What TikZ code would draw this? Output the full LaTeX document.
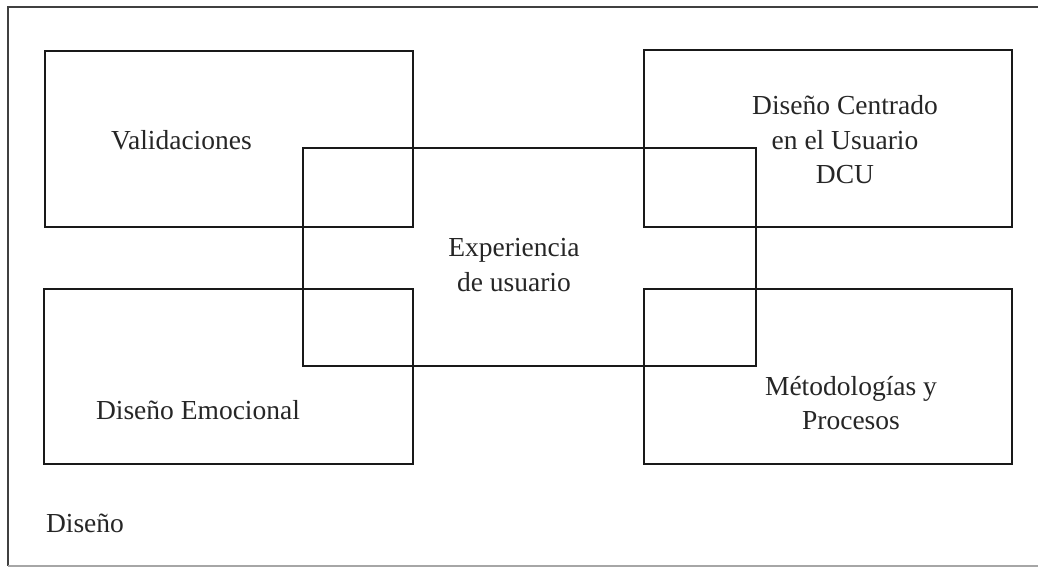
\documentclass[tikz,border=0pt]{standalone}
\usepackage{fontspec}
\setmainfont{Liberation Serif}
\begin{document}
\begin{tikzpicture}[x=1pt,y=-1pt,
  boxstyle/.style={draw=black!90, line width=2pt, rectangle, inner sep=0pt},
  txt/.style={font=\fontsize{27.5}{34.5}\selectfont, align=center, inner sep=0pt, text=black!85}]
\useasboundingbox (0,0) rectangle (1038,568);
% outer frame (cut at right)
\coordinate (ftr) at (1038,7);
\coordinate (ftl) at (8,7);
\coordinate (fbl) at (8,566);
\coordinate (fbr) at (1038,566);
\draw[line width=1.8pt, black!75] (ftr) -- (ftl) -- (fbl);
\draw[line width=1.5pt, black!35] (fbl) -- (fbr);
% boxes
\node[boxstyle, minimum width=368pt, minimum height=176pt] (val) at (228.5,138.5) {};
\node[boxstyle, minimum width=368pt, minimum height=177pt] (dcu) at (828,138.5) {};
\node[boxstyle, minimum width=369pt, minimum height=175pt] (emo) at (228.5,376.5) {};
\node[boxstyle, minimum width=368pt, minimum height=175pt] (met) at (828,376.5) {};
\node[boxstyle, minimum width=453pt, minimum height=218pt] (exp) at (529.5,257) {};
% texts
\node[txt] (tval) at (181.5,140) {Validaciones};
\node[txt] (tdcu) at (845,140) {Diseño Centrado\\en el Usuario\\DCU};
\node[txt] (texp) at (514,265) {Experiencia\\de usuario};
\node[txt] (temo) at (198,410) {Diseño Emocional};
\node[txt] (tmet) at (851,403) {Métodologías y\\Procesos};
\node[txt] (tdis) at (85,523) {Diseño};
\end{tikzpicture}
\end{document}
